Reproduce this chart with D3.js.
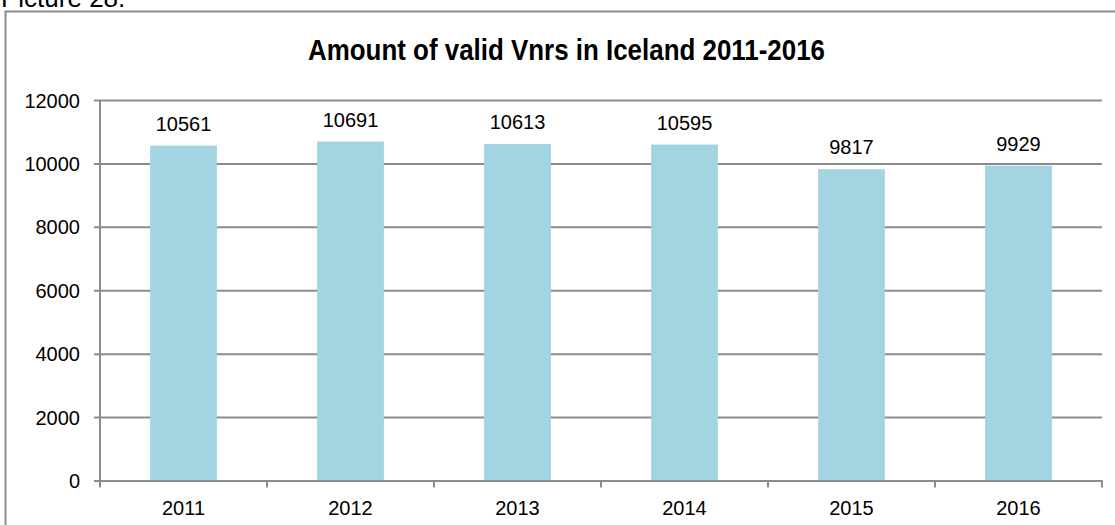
<!DOCTYPE html>
<html>
<head>
<meta charset="utf-8">
<script src="https://cdn.jsdelivr.net/npm/d3@7"></script>
<style>
  body { margin: 0; background: #fff; }
  svg { display: block; }
  text { font-family: Arial, "Liberation Sans", sans-serif; fill: #000; }
</style>
</head>
<body>
<svg id="chart" width="1115" height="525"></svg>
<script>
"use strict";
var years = ['2011', '2012', '2013', '2014', '2015', '2016'];
var validVnrs = [10561, 10691, 10613, 10595, 9817, 9929];
var yTicks = [0, 2000, 4000, 6000, 8000, 10000, 12000];

var svg = d3.select('#chart');
var margin = {left: 100, right: 1102, top: 100, bottom: 480.5};
var lineColor = '#8c8c8c';

// caption above the frame, cut off at the top like in the source document
svg.append('text').attr('x', 1).attr('y', 7).style('font-size', '26px').text('Picture 28.');

// frame of the chart object
svg.append('path')
    .attr('d', 'M5.5,530V11.5H1120')
    .attr('fill', 'none').attr('stroke', lineColor).attr('stroke-width', 2);

// title in a narrow bold face, squeezed to the original width
svg.append('text')
    .attr('x', 308).attr('y', 60)
    .attr('textLength', 517).attr('lengthAdjust', 'spacingAndGlyphs')
    .style('font-weight', 'bold').style('font-size', '30px')
    .text('Amount of valid Vnrs in Iceland 2011-2016');

var x = d3.scaleBand().domain(years).range([margin.left, margin.right]).paddingInner(0.6).paddingOuter(0.3);
var y = d3.scaleLinear().domain([0, 12000]).range([margin.bottom, margin.top]);

// gridlines + y ticks
var yAxis = svg.append('g').attr('transform', 'translate(' + margin.left + ',0)')
    .call(d3.axisLeft(y).tickValues(yTicks).tickFormat(d3.format('d')).tickSize(6));
yAxis.select('.domain').remove();
yAxis.selectAll('.tick line').attr('x2', margin.right - margin.left).attr('x1', -6)
    .attr('stroke', lineColor).attr('stroke-width', 2);
yAxis.selectAll('.tick text').style('font-size', '20px').style('font-family', 'Arial, "Liberation Sans", sans-serif')
    .attr('x', -20).attr('dy', '0.35em');

// bars
svg.selectAll('rect.bar').data(validVnrs).enter().append('rect')
    .attr('class', 'bar')
    .attr('x', function(d, i) { return x(years[i]); })
    .attr('width', x.bandwidth())
    .attr('y', function(d) { return y(d); })
    .attr('height', function(d) { return y(0) - y(d); })
    .attr('fill', '#a2d4e1');

// value labels
svg.selectAll('text.val').data(validVnrs).enter().append('text')
    .attr('class', 'val')
    .attr('x', function(d, i) { return x(years[i]) + x.bandwidth() / 2; })
    .attr('y', function(d) { return y(d) - 15; })
    .attr('text-anchor', 'middle').style('font-size', '20px')
    .text(function(d) { return d; });

// vertical axis line
svg.append('line').attr('x1', margin.left).attr('x2', margin.left)
    .attr('y1', margin.top).attr('y2', margin.bottom)
    .attr('stroke', lineColor).attr('stroke-width', 2);

// x axis: labels at centres, tick marks at category boundaries
var xAxis = svg.append('g').attr('transform', 'translate(0,' + margin.bottom + ')')
    .call(d3.axisBottom(x).tickSize(0).tickPadding(20));
xAxis.select('.domain').attr('stroke', lineColor).attr('stroke-width', 2);
xAxis.selectAll('.tick text').style('font-size', '20px').style('font-family', 'Arial, "Liberation Sans", sans-serif');

var bounds = d3.range(years.length + 1).map(function(i) { return margin.left + i * x.step(); });
xAxis.selectAll('line.bound').data(bounds).enter().append('line')
    .attr('class', 'bound')
    .attr('x1', function(d) { return d; }).attr('x2', function(d) { return d; })
    .attr('y1', 0).attr('y2', 7)
    .attr('stroke', lineColor).attr('stroke-width', 2);
</script>
</body>
</html>
